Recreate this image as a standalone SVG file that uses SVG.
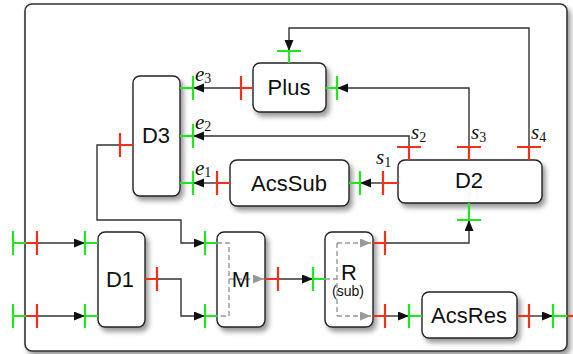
<svg xmlns="http://www.w3.org/2000/svg" width="573" height="354" viewBox="0 0 573 354">
<style>
.box{fill:#fff;stroke:#222;stroke-width:1.4}
.t{font-family:"Liberation Sans",Arial,sans-serif;font-size:22px;fill:#111;text-anchor:middle}
.ts{font-family:"Liberation Sans",Arial,sans-serif;font-size:14px;fill:#111;text-anchor:middle}
.g{stroke:#1ee81e;stroke-width:2.2;fill:none}
.r{stroke:#f4301a;stroke-width:2.2;fill:none}
.c{stroke:#333;stroke-width:1.4;fill:none}
.d{stroke:#999;stroke-width:1.4;fill:none;stroke-dasharray:5,3}
.lab{font-family:"Liberation Serif","Times New Roman",serif;font-style:italic;font-size:21px;fill:#111}
.sub{font-style:normal;font-size:14px}
</style>
<defs>
<filter id="sh" x="-20%" y="-20%" width="150%" height="150%">
<feDropShadow dx="3" dy="4" stdDeviation="2.5" flood-color="#000" flood-opacity="0.4"/>
</filter>
<marker id="ah" markerUnits="userSpaceOnUse" markerWidth="12" markerHeight="10" refX="11" refY="4.5" orient="auto">
<path d="M0,0 L11,4.5 L0,9 z" fill="#111"/>
</marker>
<marker id="ag" markerUnits="userSpaceOnUse" markerWidth="12" markerHeight="10" refX="11" refY="4.5" orient="auto">
<path d="M0,0 L11,4.5 L0,9 z" fill="#999"/>
</marker>
</defs>
<g id="frame">
<rect x="25" y="4" width="542" height="347" rx="7" fill="#fff" stroke="#333" stroke-width="1.6" filter="url(#sh)"/>
</g>
<g id="connectors">
<path class="c" d="M37,243 H85" marker-end="url(#ah)"/>
<path class="c" d="M37,316 H85" marker-end="url(#ah)"/>
<path class="c" d="M157,279 H181 V316 H205" marker-end="url(#ah)"/>
<path class="c" d="M120,145 H97 V220 H181 V243 H205" marker-end="url(#ah)"/>
<path class="c" d="M278,279 H313" marker-end="url(#ah)"/>
<path class="c" d="M385,243 H469 V220" marker-end="url(#ah)"/>
<path class="c" d="M385,316 H409" marker-end="url(#ah)"/>
<path class="c" d="M529,316 H553" marker-end="url(#ah)"/>
<path class="c" d="M383,183 H360" marker-end="url(#ah)"/>
<path class="c" d="M217,183 H193" marker-end="url(#ah)"/>
<path class="c" d="M241,88 H193" marker-end="url(#ah)"/>
<path class="c" d="M409,147 V136 H193" marker-end="url(#ah)"/>
<path class="c" d="M469,147 V88 H337" marker-end="url(#ah)"/>
<path class="c" d="M529,147 V28 H289 V51" marker-end="url(#ah)"/>
</g>
<g id="boundary-ports">
<path class="g" d="M13,231 V255 M13,243 H26"/>
<path class="r" d="M26,243 H37 M37,231 V255"/>
<path class="g" d="M13,304 V328 M13,316 H26"/>
<path class="r" d="M26,316 H37 M37,304 V328"/>
<path class="g" d="M553,304 V328 M553,316 H567"/>
<path class="r" d="M567,316 H580"/>
</g>
<g id="D3">
<rect class="box" x="133" y="76" width="47" height="120" rx="7" filter="url(#sh)"/>
<text class="t" x="156" y="143">D3</text>
<path class="r" d="M120,145 H133 M120,133 V157"/>
<path class="g" d="M180,88 H193 M193,76 V100"/>
<path class="g" d="M180,136 H193 M193,124 V148"/>
<path class="g" d="M180,183 H193 M193,171 V195"/>
<text class="lab" x="195" y="81">e<tspan class="sub" dy="2">3</tspan></text>
<text class="lab" x="195" y="129">e<tspan class="sub" dy="2">2</tspan></text>
<text class="lab" x="195" y="175">e<tspan class="sub" dy="2">1</tspan></text>
</g>
<g id="Plus">
<rect class="box" x="253" y="63" width="73" height="49" rx="7" filter="url(#sh)"/>
<text class="t" x="289" y="95">Plus</text>
<path class="r" d="M241,88 H253 M241,76 V100"/>
<path class="g" d="M326,88 H337 M337,76 V100"/>
<path class="g" d="M289,51 V63 M277,51 H301"/>
</g>
<g id="AcsSub">
<rect class="box" x="230" y="160" width="119" height="46" rx="7" filter="url(#sh)"/>
<text class="t" x="289" y="191">AcsSub</text>
<path class="r" d="M217,183 H230 M217,171 V195"/>
<path class="g" d="M349,183 H360 M360,171 V195"/>
</g>
<g id="D2">
<rect class="box" x="398" y="160" width="144" height="43" rx="7" filter="url(#sh)"/>
<text class="t" x="469" y="188">D2</text>
<path class="r" d="M383,183 H398 M383,171 V195"/>
<path class="r" d="M409,147 V160 M397,147 H421"/>
<path class="r" d="M469,147 V160 M457,147 H481"/>
<path class="r" d="M529,147 V160 M517,147 H541"/>
<path class="g" d="M469,203 V220 M457,220 H481"/>
<text class="lab" x="376" y="164">s<tspan class="sub" dy="3">1</tspan></text>
<text class="lab" x="411" y="139">s<tspan class="sub" dy="3">2</tspan></text>
<text class="lab" x="471" y="139">s<tspan class="sub" dy="3">3</tspan></text>
<text class="lab" x="531" y="139">s<tspan class="sub" dy="3">4</tspan></text>
</g>
<g id="D1">
<rect class="box" x="98" y="232" width="47" height="95" rx="7" filter="url(#sh)"/>
<text class="t" x="120" y="287">D1</text>
<path class="g" d="M85,243 H98 M85,231 V255"/>
<path class="g" d="M85,316 H98 M85,304 V328"/>
<path class="r" d="M145,279 H157 M157,267 V291"/>
</g>
<g id="M">
<rect class="box" x="217" y="232" width="48" height="95" rx="7" filter="url(#sh)"/>
<path class="d" d="M217,243 H229 V316 H217"/>
<path class="d" d="M229,279 H264" marker-end="url(#ag)"/>
<text class="t" x="241" y="287">M</text>
<path class="g" d="M205,243 H217 M205,231 V255"/>
<path class="g" d="M205,316 H217 M205,304 V328"/>
<path class="r" d="M265,279 H278 M278,267 V291"/>
</g>
<g id="R">
<rect class="box" x="325" y="232" width="48" height="95" rx="7" filter="url(#sh)"/>
<path class="d" d="M325,279 H337 M337,243 V316"/>
<path class="d" d="M337,243 H371" marker-end="url(#ag)"/>
<path class="d" d="M337,316 H371" marker-end="url(#ag)"/>
<text class="t" x="349" y="280">R</text>
<text class="ts" x="348" y="296">(sub)</text>
<path class="g" d="M313,279 H325 M313,267 V291"/>
<path class="r" d="M373,243 H385 M385,231 V255"/>
<path class="r" d="M373,316 H385 M385,304 V328"/>
</g>
<g id="AcsRes">
<rect class="box" x="422" y="292" width="95" height="46" rx="7" filter="url(#sh)"/>
<text class="t" x="469" y="323">AcsRes</text>
<path class="g" d="M409,316 H422 M409,304 V328"/>
<path class="r" d="M517,316 H529 M529,304 V328"/>
</g>
</svg>
